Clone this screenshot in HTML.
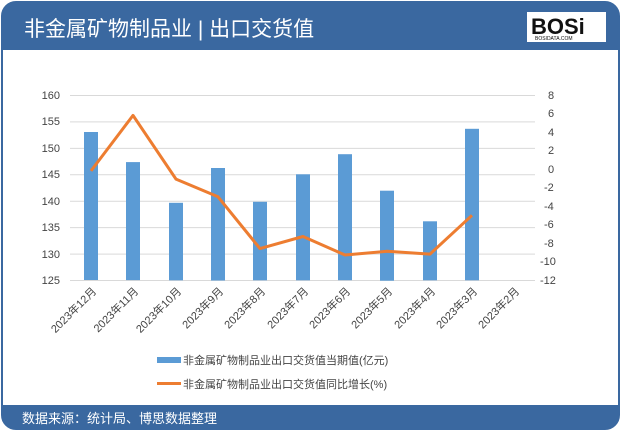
<!DOCTYPE html>
<html><head><meta charset="utf-8"><style>
body{margin:0;width:621px;height:432px;background:#fff;overflow:hidden}
text{font-family:"Liberation Sans","Noto Sans CJK SC",sans-serif}
</style></head><body>
<svg width="621" height="432" xmlns="http://www.w3.org/2000/svg">
<rect x="2" y="2" width="617" height="427" rx="14" fill="#fff" stroke="#3a68a0" stroke-width="2"/>
<path d="M2,50 V16 A14,14 0 0 1 16,2 H605 A14,14 0 0 1 619,16 V50 Z" fill="#3a68a0"/>
<text x="24" y="36" font-size="21" fill="#fff">非金属矿物制品业 | 出口交货值</text>
<rect x="527" y="12" width="79" height="30" fill="#fff"/>
<text x="531" y="34" font-size="22" font-weight="bold" fill="#111" font-family="Liberation Sans">BOSi</text>
<text x="535" y="40" font-size="5" fill="#111">BOSIDATA.COM</text>
<path d="M2,405 H619 V415 A14,14 0 0 1 605,429 H16 A14,14 0 0 1 2,415 Z" fill="#3a68a0"/>
<text x="22" y="423" font-size="13" fill="#fff">数据来源：统计局、博思数据整理</text>
<g stroke="#d9d9d9" stroke-width="1">
<line x1="70" y1="95.5" x2="535" y2="95.5"/><line x1="70" y1="121.9" x2="535" y2="121.9"/>
<line x1="70" y1="148.4" x2="535" y2="148.4"/><line x1="70" y1="174.8" x2="535" y2="174.8"/>
<line x1="70" y1="201.2" x2="535" y2="201.2"/><line x1="70" y1="227.6" x2="535" y2="227.6"/>
<line x1="70" y1="254.1" x2="535" y2="254.1"/><line x1="70" y1="280.5" x2="535" y2="280.5"/>
</g>
<g font-size="11" fill="#444" text-anchor="end">
<text x="60" y="99">160</text><text x="60" y="125">155</text><text x="60" y="152">150</text><text x="60" y="178">145</text>
<text x="60" y="205">140</text><text x="60" y="231">135</text><text x="60" y="258">130</text><text x="60" y="284">125</text>
</g>
<g font-size="11" fill="#444" text-anchor="start">
<text x="548" y="99">8</text><text x="548" y="117">6</text><text x="548" y="136">4</text><text x="548" y="154">2</text>
<text x="548" y="173">0</text><text x="544" y="191">-2</text><text x="544" y="210">-4</text><text x="544" y="228">-6</text>
<text x="544" y="247">-8</text><text x="540" y="265">-10</text><text x="540" y="284">-12</text>
</g>
<g fill="#5b9bd5">
<rect x="84" y="132" width="14" height="148"/>
<rect x="126" y="162.1" width="14" height="118"/>
<rect x="169" y="202.8" width="14" height="77.5"/>
<rect x="211" y="168" width="14" height="112.5"/>
<rect x="253" y="201.8" width="14" height="78.5"/>
<rect x="296" y="174.3" width="14" height="106"/>
<rect x="338" y="154.2" width="14" height="126"/>
<rect x="380" y="190.7" width="14" height="90"/>
<rect x="423" y="221.3" width="14" height="59"/>
<rect x="465" y="128.8" width="14" height="151.5"/>
</g>
<polyline fill="none" stroke="#ed7d31" stroke-width="3" stroke-linejoin="round" points="91,170.9 133,115.4 176,179.1 218,196.8 260,248.6 303,236.5 345,255 387,251.3 430,254.1 472,215.3"/>
<g font-size="11" fill="#444" text-anchor="end">
<text transform="translate(97,292) rotate(-45)">2023年12月</text>
<text transform="translate(139,292) rotate(-45)">2023年11月</text>
<text transform="translate(182,292) rotate(-45)">2023年10月</text>
<text transform="translate(224,292) rotate(-45)">2023年9月</text>
<text transform="translate(266,292) rotate(-45)">2023年8月</text>
<text transform="translate(309,292) rotate(-45)">2023年7月</text>
<text transform="translate(351,292) rotate(-45)">2023年6月</text>
<text transform="translate(393,292) rotate(-45)">2023年5月</text>
<text transform="translate(436,292) rotate(-45)">2023年4月</text>
<text transform="translate(478,292) rotate(-45)">2023年3月</text>
<text transform="translate(520,292) rotate(-45)">2023年2月</text>
</g>
<rect x="157" y="357" width="24" height="6" fill="#5b9bd5"/>
<text x="183" y="364" font-size="11" fill="#444">非金属矿物制品业出口交货值当期值(亿元)</text>
<line x1="157" y1="383.5" x2="181" y2="383.5" stroke="#ed7d31" stroke-width="3"/>
<text x="183" y="388" font-size="11" fill="#444">非金属矿物制品业出口交货值同比增长(%)</text>
</svg>
</body></html>
